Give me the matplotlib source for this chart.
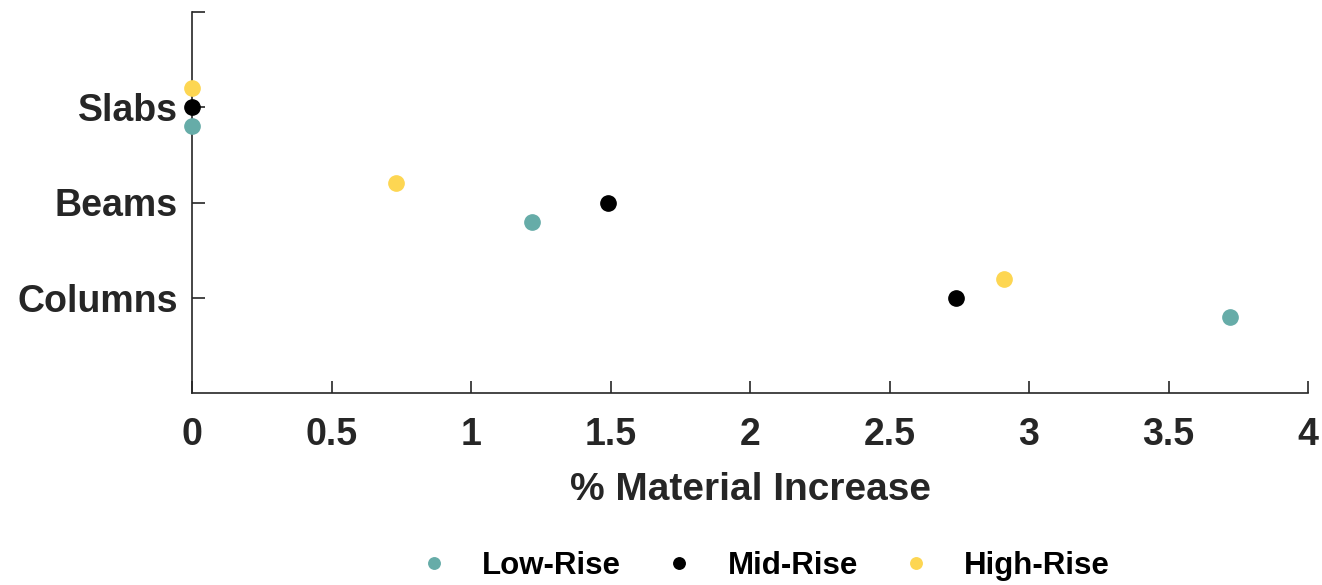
import matplotlib
matplotlib.use("Agg")
import matplotlib.pyplot as plt
import numpy as np

categories = ["Columns", "Beams", "Slabs"]
series_names = ["Low-Rise", "Mid-Rise", "High-Rise"]
low_rise = [3.72, 1.22, 0.0]
mid_rise = [2.74, 1.49, 0.0]
high_rise = [2.91, 0.73, 0.0]
x_ticks = [0, 0.5, 1, 1.5, 2, 2.5, 3, 3.5, 4]
x_tick_labels = ["0", "0.5", "1", "1.5", "2", "2.5", "3", "3.5", "4"]

colors = ["#66aca8", "#000000", "#fdd652"]
offsets = [-0.2, 0.0, 0.2]

plt.rcParams['font.family'] = ['Liberation Sans', 'DejaVu Sans']
plt.rcParams['font.weight'] = 'bold'

fig = plt.figure(figsize=(13.22, 5.85), dpi=100)
W, H = 1322, 585
ax = fig.add_axes([192 / W, 1 - 393 / H, (1308 - 192) / W, (393 - 12) / H])

base = np.arange(1, len(categories) + 1)
for vals, name, c, off in zip([low_rise, mid_rise, high_rise], series_names, colors, offsets):
    ax.plot(vals, base + off, linestyle='none', marker='o', markersize=11,
            color=c, label=name, clip_on=False, zorder=3)

ax.set_xlim(0, 4)
ax.set_ylim(0, 4)
ax.set_xticks(x_ticks)
ax.set_xticklabels(x_tick_labels)
ax.set_yticks(list(base) + [4])
ax.set_yticklabels(categories + [""])

axcol = "#262626"
for s in ["top", "right"]:
    ax.spines[s].set_visible(False)
for s in ["left", "bottom"]:
    ax.spines[s].set_color(axcol)
    ax.spines[s].set_linewidth(1.2)
ax.tick_params(axis='both', direction='in', length=9, width=1.2, color=axcol,
               labelsize=27, labelcolor=axcol)
ax.tick_params(axis='x', pad=17)
ax.tick_params(axis='y', pad=10)
for lbl in ax.get_xticklabels() + ax.get_yticklabels():
    lbl.set_fontweight('bold')

ax.set_xlabel("% Material Increase", fontsize=28, fontweight='bold', color=axcol, labelpad=14)

leg = fig.legend(loc='center', ncol=3, frameon=False, fontsize=22.5,
                 bbox_to_anchor=(0.578, 1 - 566 / H), markerscale=0.75,
                 handletextpad=1.05, columnspacing=1.35, handlelength=1.0)
for t in leg.get_texts():
    t.set_fontweight('bold')
    t.set_color('black')

fig.savefig("out.png", dpi=100)
